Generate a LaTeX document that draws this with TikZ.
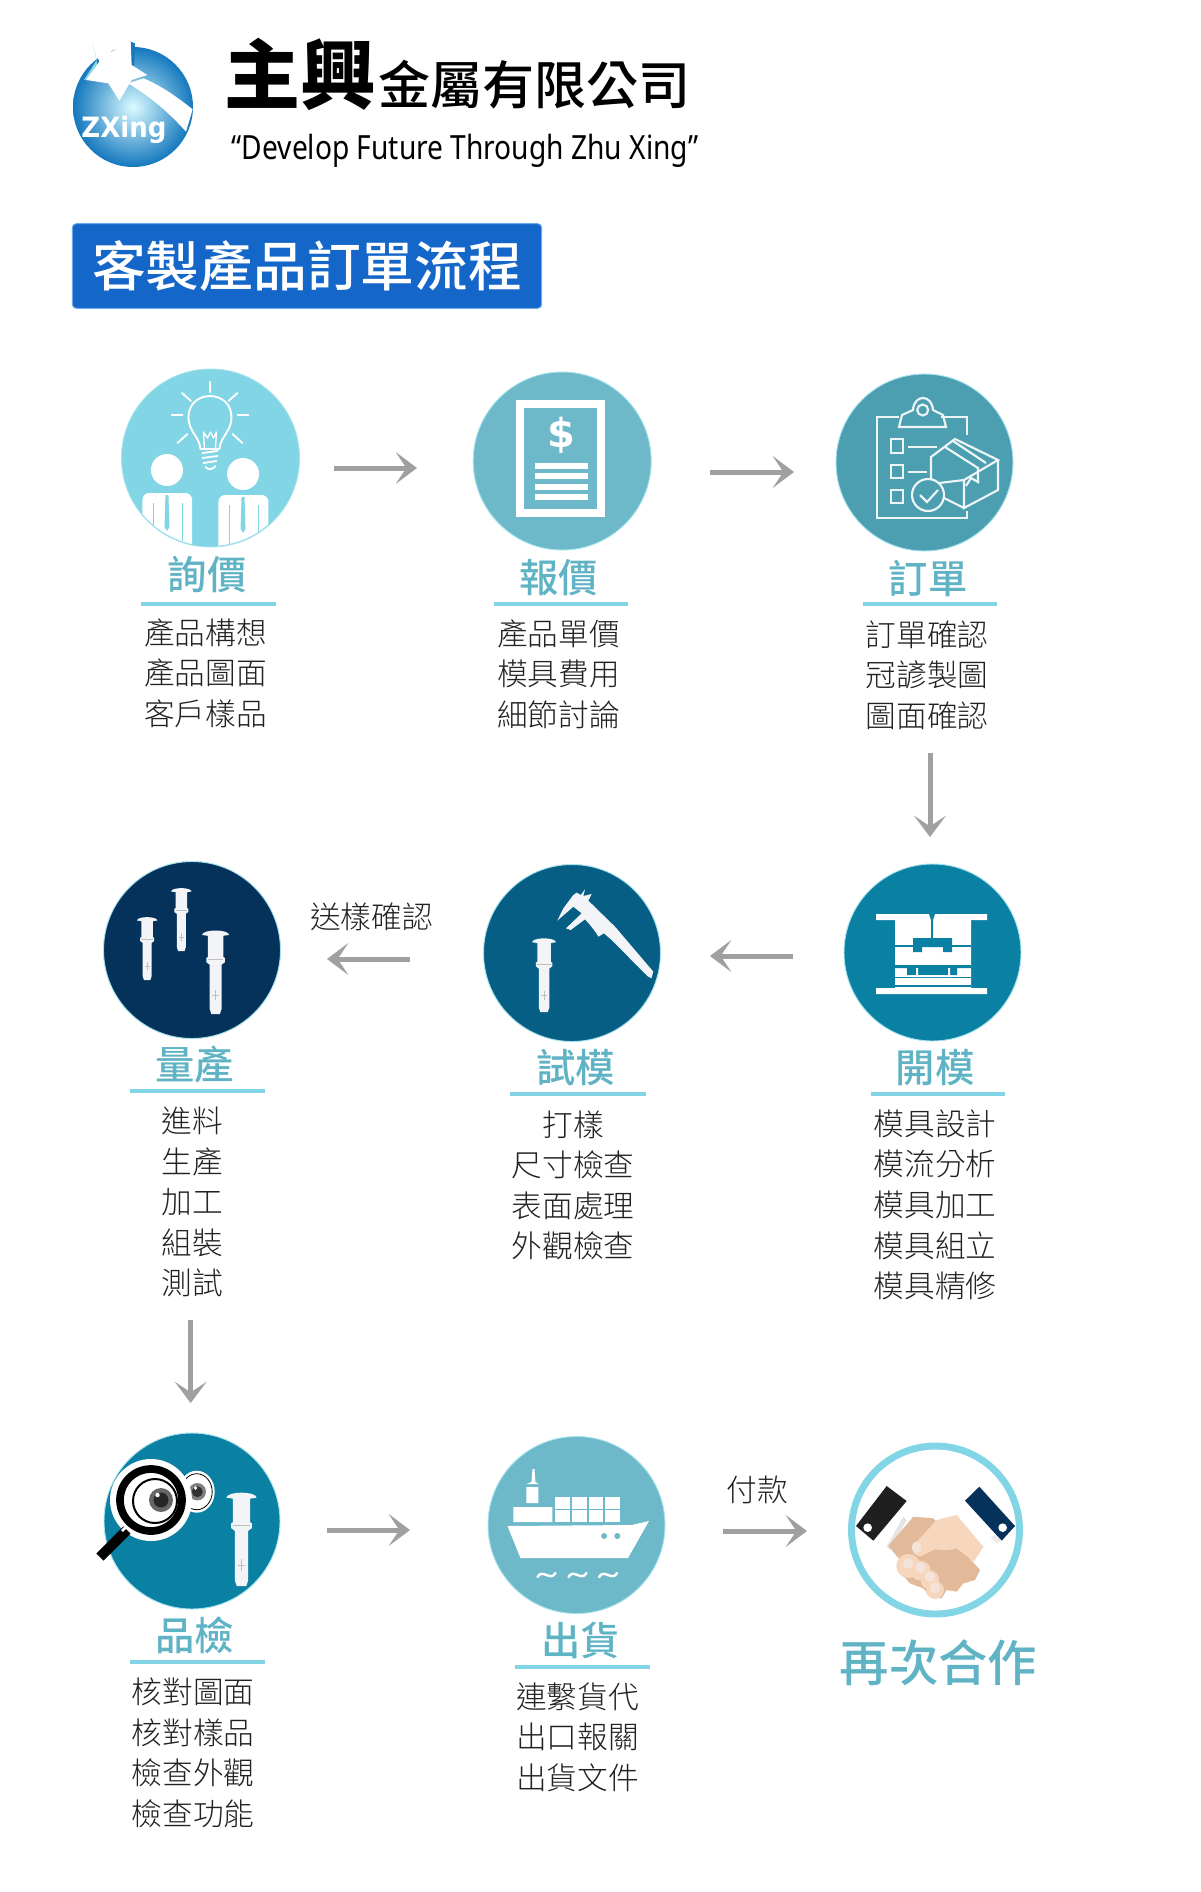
\documentclass[tikz,border=0pt]{standalone}
\usepackage{fontspec}
\usetikzlibrary{arrows.meta,shadings}
\newfontfamily\cjk{Noto Sans CJK TC}
\newfontfamily\cjkl{Noto Sans CJK TC Light}
\newfontfamily\cjkm{Noto Sans CJK TC Medium}
\newfontfamily\lat{Noto Sans}
\newfontfamily\logof{DejaVu Sans}
\definecolor{cA}{HTML}{82D5E5}
\definecolor{cB}{HTML}{6DB9C9}
\definecolor{cC}{HTML}{4C9FB1}
\definecolor{cD}{HTML}{05325A}
\definecolor{cE}{HTML}{065E84}
\definecolor{cF}{HTML}{0A80A3}
\definecolor{edgec}{HTML}{A5E2EC}
\definecolor{labelc}{HTML}{5FB3C4}
\definecolor{arrowc}{HTML}{A0A0A0}
\definecolor{bodyc}{HTML}{222222}
\definecolor{bluebox}{HTML}{1466C9}
\definecolor{pinw}{HTML}{F2F4F8}
\definecolor{skinD}{HTML}{E2B999}
\definecolor{skinL}{HTML}{F6D6BD}
\definecolor{skinN}{HTML}{F4E3D8}
\definecolor{logoblue}{HTML}{1478BE}
\tikzset{
  disc/.style n args={2}{circle,inner sep=0,outer sep=0,minimum size=#1*0.75pt,fill=#2,draw=edgec,line width=0.7pt},
  flow/.style={draw=arrowc,line width=3.75pt,-{Stealth[length=16pt,width=24pt,inset=8pt]}},
  head/.style={font=\cjkm\fontsize{29.5}{30}\selectfont,text=labelc,inner sep=0},
  body/.style={font=\cjkl\fontsize{23}{30.4}\selectfont,text=bodyc,align=center,inner sep=0},
  note/.style={font=\cjkl\fontsize{23}{28}\selectfont,text=bodyc,inner sep=0},
  rulel/.style={draw=cA,line width=2.4pt},
  wl/.style={draw=white,line width=1.4pt,line cap=round,line join=round}
}
\newcommand{\rivet}[3]{%
\begin{scope}[shift={(#1,#2)},scale=#3]
\fill[pinw] (-16,7) .. controls (-15,0) and (15,0) .. (16,7) -- (9,8) -- (9,33) -- (11,34) -- (11,39) -- (7,42) -- (7,94) -- (5,100) -- (-5,100) -- (-7,94) -- (-7,42) -- (-11,39) -- (-11,34) -- (-9,33) -- (-9,8) -- cycle;
\draw[gray!50,line width=0.25pt] (-9,36) -- (9,36) (-4,78) -- (4,78) (0,72) -- (0,84);
\end{scope}}
\begin{document}
\begin{tikzpicture}[x=0.75pt,y=-0.75pt]
\useasboundingbox (0,0) rectangle (1200,1892);
% logo
\shade[inner color=blue!12!cyan!14!white,outer color=logoblue,shading=radial] (133,107) circle (60);
\begin{scope}[shift={(60,30)},scale=1/3]
\fill[cA] (98,38) -- (110,90) -- (72,150) -- (120,140) -- cycle;
\fill[logoblue] (212,35) -- (225,40) -- (222,110) -- (212,105) -- cycle;
\fill[white] (205,160) .. controls (270,200) and (330,250) .. (378,305) -- (398,238) .. controls (350,200) and (300,165) .. (250,145) -- cycle;
\fill[white] (98,38) -- (155,65) -- (212,35) -- (215,105) -- (262,135) -- (215,150) -- (178,212) -- (145,160) -- (78,150) -- (118,95) -- cycle;
\end{scope}
\node[font=\logof\bfseries\fontsize{21}{21}\selectfont,text=white,inner sep=0,xscale=0.93,anchor=base] (logotext) at (124,137) {ZXing};
% title
\node[font=\cjk\bfseries\fontsize{57}{60}\selectfont,text=black,inner sep=0] (brand) at (300.5,74) {主興};
\node[font=\cjkm\fontsize{39}{40}\selectfont,text=black,inner sep=0] (company) at (534.5,85) {金屬有限公司};
\node[font=\lat\fontsize{25}{28}\selectfont,text=black,inner sep=0,xscale=0.845] (motto) at (465,150.5) {“Develop Future Through Zhu Xing”};
% banner
\node[fill=bluebox,draw=cA!80!blue,line width=0.7pt,rounded corners=3pt,minimum width=352pt,minimum height=63.5pt,inner sep=0,text=white,font=\cjkm\fontsize{40.3}{42}\selectfont] (banner) at (307,266) {\raisebox{-4pt}{客製產品訂單流程}};

% discs
\node[disc={178}{cA}] (c1) at (210.5,458) {};
\node[disc={178}{cB}] (c2) at (562.2,461) {};
\node[disc={177}{cC}] (c3) at (924.5,462.5) {};
\node[disc={177}{cD}] (c4) at (192,950) {};
\node[disc={177}{cE}] (c5) at (572,953) {};
\node[disc={177}{cF}] (c6) at (932.5,952.5) {};
\node[disc={176}{cF}] (c7) at (192,1521) {};
\node[disc={177}{cB}] (c8) at (576.5,1525) {};
\node[circle,inner sep=0,outer sep=0,minimum size=126pt,fill=white,draw=cA,line width=5.2pt] (c9) at (935.5,1530) {};

% icon: inquiry
\begin{scope}[xshift=-0.4pt]
\begin{scope}
\clip (211,458) circle (88);
\foreach \cx/\cy/\bl/\br/\by in {167.5/470/143/192.6/493, 243.6/474/219/269/495}{
  \fill[white] (\cx,\cy) circle (16);
  \fill[white,rounded corners=5pt] (\bl,560) -- (\bl,\by) -- (\br,\by) -- (\br,560) -- cycle;
  \draw[cA,line width=0.8pt] (\bl+11,\by+10) -- (\bl+11,560) (\br-10,\by+10) -- (\br-10,560);
  \fill[cA] (\cx-1.5,\by+2) -- (\cx+1.5,\by+2) -- (\cx+2.5,\by+34) -- (\cx,\by+38) -- (\cx-2.5,\by+34) -- cycle;
}
\end{scope}
\draw[wl] (201,449) .. controls (200,436) and (189,432) .. (189,417) .. controls (189,404) and (199,396) .. (210.6,396) .. controls (222,396) and (232,404) .. (232,417) .. controls (232,432) and (221,436) .. (220,449) -- cycle;
\draw[wl] (203,453) -- (218,451) (203,458) -- (218,456) (204,463) -- (217,461) (206,467) .. controls (209,470) and (213,470) .. (216,466);
\draw[wl,line width=1pt] (205,449) -- (204,432) -- (208,438) -- (211,432) -- (214,438) -- (217,432) -- (216,449);
\draw[wl] (210.6,382) -- (210.6,392) (182.6,393) -- (191.5,401) (238,393) -- (229,401) (172,415) -- (183,415) (238,415) -- (249,415) (178,443) -- (188,434) (243,443) -- (233,434);
\end{scope}

% icon: quote
\draw[white,line width=6pt] (519.5,404) rectangle (601,513);
\node[font=\logof\bfseries\fontsize{30}{30}\selectfont,text=white,inner sep=0] (dollar) at (561,435) {\$};
\foreach \yy in {466,476,487,497}{\fill[white] (535,\yy-3) rectangle (588,\yy+3);}

% icon: order
\begin{scope}[draw=white!90!cC,line width=1.6pt,line join=miter]
\draw (899,417) -- (877,417) -- (877,518) -- (967,518) -- (967,511);
\draw (941,417) -- (967,417) -- (967,435);
\draw (899,427) -- (946,427) -- (943,415) -- (933,410) .. controls (932,394) and (914,394) .. (913,410) -- (902,415) -- cycle;
\draw (922.7,410) circle (5.5);
\draw (891,439) rectangle (903,453) (891,465) rectangle (903,478) (891,490) rectangle (903,503);
\draw (908,447) -- (937,447) (908,472) -- (927,472);
\draw (931,484) -- (931,457) -- (955,439) -- (998,460) -- (964,480) -- cycle;
\draw (998,460) -- (998,490) -- (964,508) -- (964,480) (964,508) -- (942,497);
\draw (945,447) -- (978,468) -- (978,482) -- (971,478) -- (966,486) (953,441) -- (986,463);
\fill[cC] (928,495) circle (16);
\draw (928,495) circle (16);
\draw (920,495) -- (927,502) -- (938,490);
\end{scope}

% icon: mass production
\rivet{147.2}{916}{0.64}
\rivet{181.3}{887}{0.64}
\rivet{215.6}{929}{0.85}

% icon: trial
\rivet{544}{937}{0.75}
\begin{scope}[shift={(530,880)},scale=1/3]
\fill[pinw] (82,122) -- (100,85) -- (130,45) -- (140,38) -- (152,45) -- (165,28) -- (160,48) -- (185,42) -- (175,62) -- (255,140) -- (370,275) -- (364,295) -- (352,288) -- (245,180) -- (222,160) -- (205,170) -- (198,158) -- (178,132) -- (165,118) -- (122,150) -- (108,145) -- (155,100) -- (130,80) -- cycle;
\end{scope}

% icon: mould
\fill[white] (876,914) rectangle (987,920) (876,988) rectangle (987,994) (895,920) rectangle (971,988);
\fill[cF] (929,914) -- (935,914) -- (933,920) -- (933,938) -- (931,938) -- (931,920) -- cycle;
\fill[cF] (913,938) -- (952,938) -- (952,952) -- (943,952) -- (943,947) -- (922,947) -- (922,952) -- (913,952) -- cycle;
\draw[cF,line width=0.8pt] (895,946) -- (913,946) (952,946) -- (971,946) (895,977.5) -- (971,977.5) (895,986) -- (971,986);
\fill[cF] (895,965) rectangle (971,968) (907,968) rectangle (957,975);
\fill[white] (910,975) rectangle (953,977) (916,968) rectangle (918,975) (948,968) rectangle (950,975);

% icon: inspection
\rivet{241.5}{1491}{0.95}
\fill[white] (196.7,1491.7) ellipse (18 and 21);
\draw[black,line width=0.6pt] (196.7,1491.7) ellipse (15.5 and 18);
\fill[gray] (197.3,1491.7) circle (8.7);
\fill[black!80] (197.3,1491.7) circle (5.5);
\fill[white] (195.5,1488) circle (1.8);
\fill[white] (151,1500) circle (41);
\draw[black,line width=7.5pt,line cap=butt] (127,1530) -- (100,1557);
\draw[white,line width=2pt] (130,1523) -- (122,1531);
\draw[black,line width=5.8pt] (151,1500) circle (31);
\draw[black,line width=1.5pt] (155,1501) circle (22);
\fill[gray!80!black] (161,1500) circle (12);
\fill[black!85] (161,1500) circle (7.5);
\fill[white] (157.5,1495) circle (2.2);

% icon: ship
\begin{scope}[xshift=-1.9pt]
\fill[white] (510,1526) -- (634.5,1525) -- (651.5,1521) -- (630.5,1558) -- (523,1558) -- cycle;
\fill[cB] (606.6,1536) circle (3) (619.8,1536) circle (3);
\foreach \xi in {0,1,2,3}{\foreach \yi in {0,1}{\fill[white] (558+\xi*16.6,1497+\yi*13) rectangle (572.5+\xi*16.6,1508.5+\yi*13);}}
\fill[white] (516,1507) rectangle (555,1522) (529,1487) rectangle (541,1503);
\fill[white] (535,1469) -- (537,1469) -- (538,1482) -- (541,1484) -- (529,1484) -- (534,1482) -- cycle;
\foreach \wx in {549,580,610.6}{\draw[white,line width=1.8pt,line cap=round] (\wx-9,1577) .. controls (\wx-4,1568) and (\wx+4,1582) .. (\wx+9,1573);}
\end{scope}

% icon: handshake
\begin{scope}[shift={(700,1420)},scale=1/3]
\fill[black!10] (560,380) -- (610,290) -- (620,300) -- (570,390) -- cycle;
\fill[black!88] (560,198) -- (620,243) -- (520,362) -- (468,318) -- cycle;
\fill[white] (503,323) circle (13);
\fill[cD] (838,200) -- (945,318) -- (905,362) -- (795,242) -- cycle;
\fill[white] (908,323) circle (13);
\fill[black!8] (905,362) -- (885,345) -- (872,352) -- (890,370) -- cycle;
\fill[skinD] (565,378) -- (640,290) -- (700,295) -- (715,310) -- (840,450) -- (825,480) -- (790,490) -- (770,515) -- (740,510) -- (725,535) -- (690,530) -- (670,505) -- (630,490) -- (595,450) -- (590,430) -- (600,420) -- cycle;
\fill[skinL] (640,400) -- (650,365) -- (710,300) -- (770,285) -- (850,380) -- (822,425) -- (770,385) .. controls (740,395) and (700,385) .. (700,390) -- (660,410) -- cycle;
\foreach \fx/\fy/\fr in {625/438/36, 662/452/30, 690/480/28, 705/510/27}{\fill[skinL] (\fx,\fy) circle (\fr);}
\foreach \fx/\fy/\fr in {625/430/16, 662/442/16, 690/470/16, 705/503/16}{\fill[skinN] (\fx,\fy) circle (\fr);}
\fill[skinN] (650,382) ellipse (14 and 18);
\end{scope}

% heads, rules, bodies
\node[head] (h1) at (207,574) {詢價};
\draw[rulel] (140.5,604) -- (275.5,604);
\node[body] (b1) at (205.5,673) {產品構想\\產品圖面\\客戶樣品};
\node[head] (h2) at (558.7,578) {報價};
\draw[rulel] (494,604) -- (628,604);
\node[body] (b2) at (558.5,674) {產品單價\\模具費用\\細節討論};
\node[head] (h3) at (928,578) {訂單};
\draw[rulel] (863,604) -- (997,604);
\node[body] (b3) at (927,675) {訂單確認\\冠諺製圖\\圖面確認};

\node[head] (h4) at (194.5,1064.5) {量產};
\draw[rulel] (130,1091) -- (265,1091);
\node[body] (b4) at (192.5,1202) {進料\\生產\\加工\\組裝\\測試};
\node[head] (h5) at (575.5,1067.5) {試模};
\draw[rulel] (510,1094) -- (645.5,1094);
\node[body] (b5) at (573,1185.5) {打樣\\尺寸檢查\\表面處理\\外觀檢查};
\node[head] (h6) at (935,1067.5) {開模};
\draw[rulel] (871,1094) -- (1005,1094);
\node[body] (b6) at (935,1205) {模具設計\\模流分析\\模具加工\\模具組立\\模具精修};

\node[head] (h7) at (194.5,1635) {品檢};
\draw[rulel] (130,1662) -- (265,1662);
\node[body] (b7) at (193,1753) {核對圖面\\核對樣品\\檢查外觀\\檢查功能};
\node[head] (h8) at (580.5,1640) {出貨};
\draw[rulel] (515,1667) -- (649.5,1667);
\node[body] (b8) at (577.5,1737) {連繫貨代\\出口報關\\出貨文件};
\node[font=\cjkm\fontsize{37}{38}\selectfont,text=labelc,inner sep=0] (again) at (938.5,1663) {再次合作};

\node[note] (n1) at (371.5,917) {送樣確認};
\node[note] (n2) at (757.5,1490) {付款};

% connectors
\draw[flow] ([shift={(34,10)}]c1.east) -- ([shift={(-56.2,7)}]c2.west);
\draw[flow] ([shift={(58.8,11)}]c2.east) -- ([shift={(-42,9.5)}]c3.west);
\draw[flow] ([shift={(5.5,202)}]c3.south) -- ([shift={(-2.5,-27)}]c6.north);
\draw[flow] ([shift={(-51,3.5)}]c6.west) -- ([shift={(49.5,3)}]c5.east);
\draw[flow] ([shift={(-73.5,6)}]c5.west) -- ([shift={(46.5,9)}]c4.east);
\draw[flow] ([shift={(-1.3,281.5)}]c4.south) -- ([shift={(-1.3,-30)}]c7.north);
\draw[flow] ([shift={(47,9)}]c7.east) -- ([shift={(-78,5)}]c8.west);
\draw[flow] ([shift={(58,6)}]c8.east) -- ([shift={(-44.5,1)}]c9.west);
\end{tikzpicture}
\end{document}
